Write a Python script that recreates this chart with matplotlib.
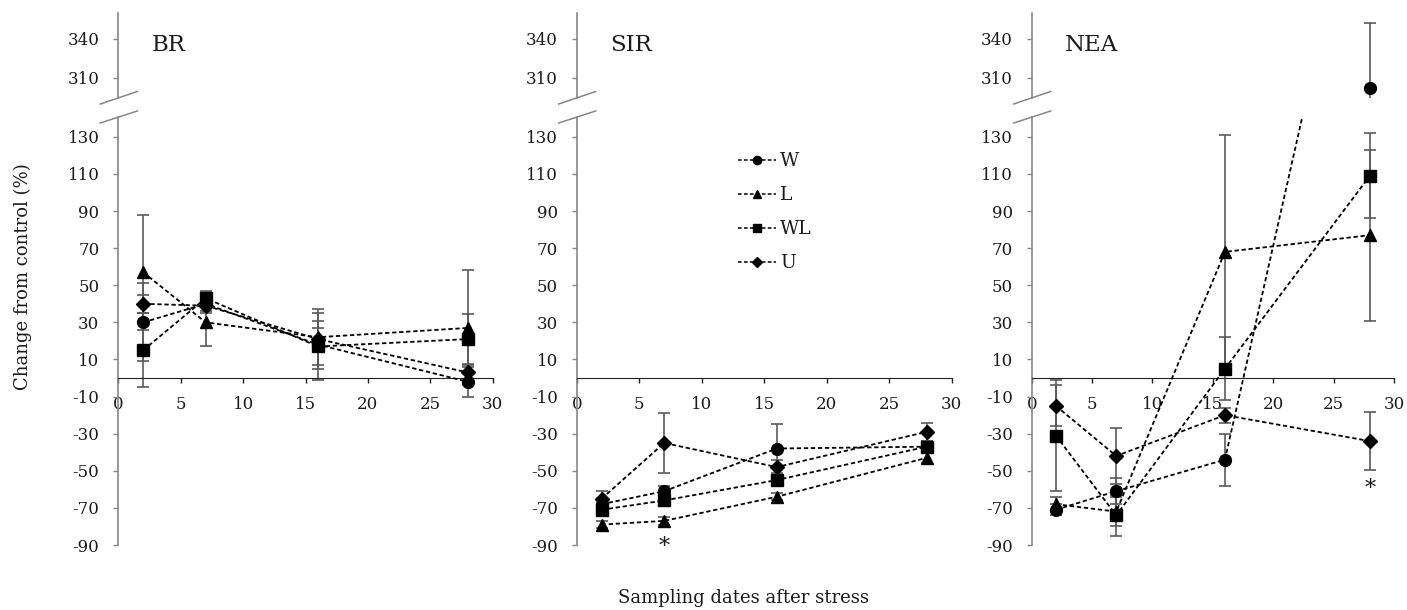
import numpy as np
import matplotlib.pyplot as plt
from matplotlib.lines import Line2D

plt.rcParams['font.family'] = ['DejaVu Serif']
plt.rcParams['axes.unicode_minus'] = False

# sampling days after stress
days = [2, 7, 16, 28]
series = ['W', 'L', 'WL', 'U']
panels = ['BR', 'SIR', 'NEA']

# change from control (%) and error bars, per panel / treatment
br_w = [30, 40, 18, -2]
br_w_err = [21, 4, 13, 8]
br_l = [57, 30, 22, 27]
br_l_err = [31, 13, 15, 31]
br_wl = [15, 43, 17, 21]
br_wl_err = [20, 4, 18, 13.5]
br_u = [40, 39, 21, 3]
br_u_err = [5, 4, 6, 4]

sir_w = [-68, -61, -38, -37]
sir_w_err = [3, 3, 13, 3]
sir_l = [-79, -77, -64, -43]
sir_l_err = [2, 2, 2, 3]
sir_wl = [-71, -66, -55, -37]
sir_wl_err = [3, 3, 3, 3]
sir_u = [-65, -35, -48, -29]
sir_u_err = [4, 16, 4, 5]

nea_w = [-71, -61, -44, 302]
nea_w_err = [3, 7, 14, 50]
nea_l = [-68, -72, 68, 77]
nea_l_err = [4, 8, 63, 46]
nea_wl = [-31, -74, 5, 109]
nea_wl_err = [30, 11, 17, 23]
nea_u = [-15, -42, -20, -34]
nea_u_err = [11, 15, 4, 15.5]

# significance stars (day, y position)
sir_star = (7, -91)
nea_star = (28, -60)

lower_ticks = list(range(-90, 131, 20))
upper_ticks = [310, 340]
x_ticks = [0, 5, 10, 15, 20, 25, 30]

data = {
    'BR': {'W': (br_w, br_w_err), 'L': (br_l, br_l_err),
           'WL': (br_wl, br_wl_err), 'U': (br_u, br_u_err)},
    'SIR': {'W': (sir_w, sir_w_err), 'L': (sir_l, sir_l_err),
            'WL': (sir_wl, sir_wl_err), 'U': (sir_u, sir_u_err)},
    'NEA': {'W': (nea_w, nea_w_err), 'L': (nea_l, nea_l_err),
            'WL': (nea_wl, nea_wl_err), 'U': (nea_u, nea_u_err)},
}
stars = {'SIR': sir_star, 'NEA': nea_star}

markers = {'W': 'o', 'L': '^', 'WL': 's', 'U': 'D'}
msizes = {'W': 8.5, 'L': 8.5, 'WL': 9, 'U': 7.5}

W, H = 1407, 610
fig = plt.figure(figsize=(W / 100, H / 100), dpi=100)


def px_box(left, top, right, bottom):
    return [left / W, 1 - bottom / H, (right - left) / W, (bottom - top) / H]


lefts = [118.3, 576.7, 1031.7]
rights = [492.7, 951.7, 1394.0]
axis_grey = '#868686'
err_grey = '#5a5a5a'
txt = '#1a1a1a'
dash = (0, (2.4, 1.5))

for name, left, right in zip(panels, lefts, rights):
    lo = fig.add_axes(px_box(left, 117, right, 545))
    hi = fig.add_axes(px_box(left, 13, right, 98))

    for ax in (lo, hi):
        ax.set_xlim(0, 30)
        ax.patch.set_alpha(0)
        for s in ('top', 'right'):
            ax.spines[s].set_visible(False)
        ax.spines['left'].set_color(axis_grey)
        ax.spines['left'].set_linewidth(1.2)
        ax.tick_params(axis='y', direction='out', length=3.6, width=1,
                       color=axis_grey, labelcolor=txt, labelsize=12, pad=10)

    lo.set_ylim(-90, 140.7)
    lo.set_yticks(lower_ticks)
    lo.spines['bottom'].set_position(('data', 0))
    lo.spines['bottom'].set_color('#222222')
    lo.set_xticks(x_ticks)
    lo.tick_params(axis='x', direction='out', length=3.6, width=1,
                   color='#222222', labelcolor=txt, labelsize=12, pad=9.5)

    hi.set_ylim(294.6, 360)
    hi.set_yticks(upper_ticks)
    hi.spines['bottom'].set_visible(False)
    hi.set_xticks([])

    for ser in series:
        vals, errs = data[name][ser]
        for ax, ls in ((lo, dash), (hi, 'none')):
            ax.errorbar(days, vals, yerr=errs, fmt='none', ecolor=err_grey,
                        elinewidth=1.2, capsize=4, capthick=1.2, zorder=2)
            ax.plot(days, vals, linestyle=ls, linewidth=1.3, color='black',
                    marker=markers[ser], markersize=msizes[ser], zorder=3,
                    label=ser)

    if name in stars:
        sx, sy = stars[name]
        lo.text(sx, sy, '*', ha='center', va='center', fontsize=16, color=txt)

    fig.text((left + 33) / W, 1 - 45 / H, name, ha='left', va='center',
             fontsize=16.5, color=txt)

    # axis break slashes
    for y0, y1 in ((104, 91.5), (123, 111)):
        fig.add_artist(Line2D([(left - 18) / W, (left + 19) / W],
                              [1 - y0 / H, 1 - y1 / H], color=axis_grey,
                              linewidth=1.1))

    if name == 'SIR':
        handles = [Line2D([], [], linestyle=dash, linewidth=1.1, color='black',
                          marker=markers[s], markersize=msizes[s] * 0.7)
                   for s in series]
        lo.legend(handles, series, loc='upper left',
                  bbox_to_anchor=(738 / W, 1 - 152.5 / H),
                  bbox_transform=fig.transFigure, frameon=False,
                  fontsize=13.5, handlelength=2.0, handletextpad=0.25,
                  labelspacing=0.85, borderpad=0, borderaxespad=0,
                  labelcolor=txt)

fig.text(23 / W, 1 - 277 / H, 'Change from control (%)', rotation=90,
         ha='center', va='center', fontsize=13, color=txt)
fig.text(744 / W, 1 - 598 / H, 'Sampling dates after stress', ha='center',
         va='center', fontsize=13, color=txt)

fig.savefig('out.png', dpi=100)
